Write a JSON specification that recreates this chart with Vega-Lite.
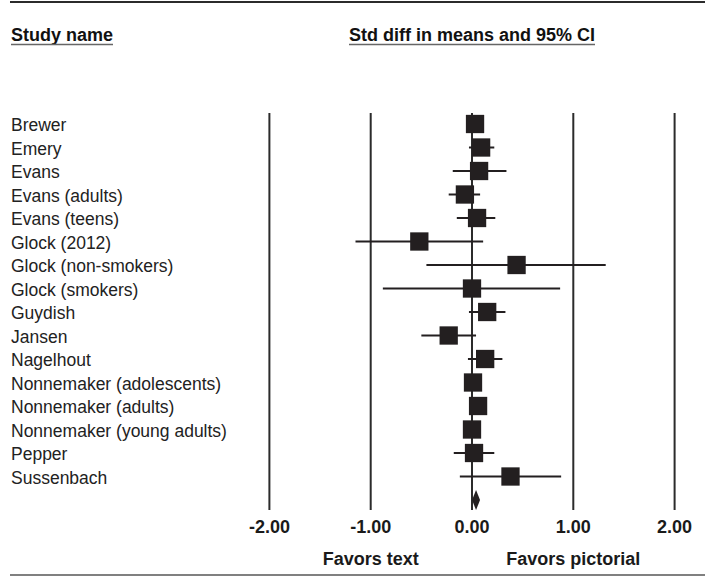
{
  "$schema": "https://vega.github.io/schema/vega-lite/v6.json",
  "width": 705,
  "height": 576,
  "padding": 0,
  "autosize": {"type": "none"},
  "background": "white",
  "config": {"view": {"stroke": null}, "font": "Liberation Sans"},
  "datasets": {
    "studies": [
      {"study": "Brewer", "type": "study", "d": 0.03, "lo": -0.03, "hi": 0.09},
      {"study": "Emery", "type": "study", "d": 0.09, "lo": -0.03, "hi": 0.22},
      {"study": "Evans", "type": "study", "d": 0.07, "lo": -0.19, "hi": 0.34},
      {"study": "Evans (adults)", "type": "study", "d": -0.07, "lo": -0.23, "hi": 0.08},
      {"study": "Evans (teens)", "type": "study", "d": 0.05, "lo": -0.15, "hi": 0.23},
      {"study": "Glock (2012)", "type": "study", "d": -0.52, "lo": -1.15, "hi": 0.11},
      {"study": "Glock (non-smokers)", "type": "study", "d": 0.44, "lo": -0.45, "hi": 1.32},
      {"study": "Glock (smokers)", "type": "study", "d": 0.0, "lo": -0.88, "hi": 0.87},
      {"study": "Guydish", "type": "study", "d": 0.15, "lo": -0.03, "hi": 0.33},
      {"study": "Jansen", "type": "study", "d": -0.23, "lo": -0.5, "hi": 0.04},
      {"study": "Nagelhout", "type": "study", "d": 0.13, "lo": -0.04, "hi": 0.3},
      {"study": "Nonnemaker (adolescents)", "type": "study", "d": 0.01, "lo": -0.04, "hi": 0.06},
      {"study": "Nonnemaker (adults)", "type": "study", "d": 0.06, "lo": 0.01, "hi": 0.11},
      {"study": "Nonnemaker (young adults)", "type": "study", "d": 0.0, "lo": -0.05, "hi": 0.05},
      {"study": "Pepper", "type": "study", "d": 0.02, "lo": -0.18, "hi": 0.22},
      {"study": "Sussenbach", "type": "study", "d": 0.38, "lo": -0.12, "hi": 0.88},
      {"study": "Overall", "type": "summary", "d": 0.04, "lo": 0.0, "hi": 0.08}
    ],
    "ticks": [
      {"tick": -2, "label": "-2.00"},
      {"tick": -1, "label": "-1.00"},
      {"tick": 0, "label": "0.00"},
      {"tick": 1, "label": "1.00"},
      {"tick": 2, "label": "2.00"}
    ],
    "one": [{}]
  },
  "layer": [
    {
      "data": {"name": "ticks"},
      "mark": {"type": "rule", "stroke": "#2b2b2b", "strokeWidth": 2},
      "encoding": {
        "x": {"field": "tick", "type": "quantitative", "scale": {"domain": [-4.6594, 2.3001], "nice": false, "zero": false}, "axis": null},
        "y": {"datum": 0.5319, "type": "quantitative", "scale": {"domain": [-4.2766, 20.234], "nice": false, "zero": false, "reverse": true}, "axis": null},
        "y2": {"datum": 17.4255}
      }
    },
    {
      "data": {"name": "ticks"},
      "mark": {"type": "text", "fontSize": 18, "fontWeight": "bold", "align": "center", "baseline": "middle", "color": "#1a1a1a"},
      "encoding": {
        "x": {"field": "tick", "type": "quantitative", "scale": {"domain": [-4.6594, 2.3001], "nice": false, "zero": false}, "axis": null},
        "y": {"datum": 18.1915, "type": "quantitative", "scale": {"domain": [-4.2766, 20.234], "nice": false, "zero": false, "reverse": true}, "axis": null},
        "text": {"field": "label"}
      }
    },
    {
      "data": {"name": "studies"},
      "transform": [{"window": [{"op": "row_number", "as": "row"}]}, {"filter": "datum.type === 'study'"}],
      "layer": [
        {
          "mark": {"type": "rule", "stroke": "#231f20", "strokeWidth": 2},
          "encoding": {
            "x": {"field": "lo", "type": "quantitative", "scale": {"domain": [-4.6594, 2.3001], "nice": false, "zero": false}, "axis": null},
            "x2": {"field": "hi"},
            "y": {"field": "row", "type": "quantitative", "scale": {"domain": [-4.2766, 20.234], "nice": false, "zero": false, "reverse": true}, "axis": null}
          }
        },
        {
          "mark": {"type": "point", "shape": "square", "filled": true, "size": 335, "color": "#231f20", "opacity": 1},
          "encoding": {
            "x": {"field": "d", "type": "quantitative", "scale": {"domain": [-4.6594, 2.3001], "nice": false, "zero": false}, "axis": null},
            "y": {"field": "row", "type": "quantitative", "scale": {"domain": [-4.2766, 20.234], "nice": false, "zero": false, "reverse": true}, "axis": null}
          }
        },
        {
          "mark": {"type": "text", "fontSize": 17.5, "align": "left", "baseline": "middle", "color": "#222222", "dy": 2},
          "encoding": {
            "x": {"datum": -4.5508, "type": "quantitative", "scale": {"domain": [-4.6594, 2.3001], "nice": false, "zero": false}, "axis": null},
            "y": {"field": "row", "type": "quantitative", "scale": {"domain": [-4.2766, 20.234], "nice": false, "zero": false, "reverse": true}, "axis": null},
            "text": {"field": "study"}
          }
        }
      ]
    },
    {
      "data": {"name": "studies"},
      "transform": [{"window": [{"op": "row_number", "as": "row"}]}, {"filter": "datum.type === 'summary'"}],
      "mark": {"type": "point", "shape": "M0,-1L0.4,0L0,1L-0.4,0Z", "filled": true, "size": 400, "color": "#231f20", "opacity": 1},
      "encoding": {
        "x": {"field": "d", "type": "quantitative", "scale": {"domain": [-4.6594, 2.3001], "nice": false, "zero": false}, "axis": null},
        "y": {"field": "row", "type": "quantitative", "scale": {"domain": [-4.2766, 20.234], "nice": false, "zero": false, "reverse": true}, "axis": null}
      }
    },
    {
      "data": {"name": "one"},
      "mark": {"type": "text", "text": "Study name", "fontSize": 18, "fontWeight": "bold", "align": "left", "baseline": "alphabetic", "color": "#111111"},
      "encoding": {
        "x": {"datum": -4.5508, "type": "quantitative", "scale": {"domain": [-4.6594, 2.3001], "nice": false, "zero": false}, "axis": null},
        "y": {"datum": -2.5319, "type": "quantitative", "scale": {"domain": [-4.2766, 20.234], "nice": false, "zero": false, "reverse": true}, "axis": null}
      }
    },
    {
      "data": {"name": "one"},
      "mark": {"type": "text", "text": "Std diff in means and 95% CI", "fontSize": 18, "fontWeight": "bold", "align": "center", "baseline": "alphabetic", "color": "#111111"},
      "encoding": {
        "x": {"datum": 0, "type": "quantitative", "scale": {"domain": [-4.6594, 2.3001], "nice": false, "zero": false}, "axis": null},
        "y": {"datum": -2.5319, "type": "quantitative", "scale": {"domain": [-4.2766, 20.234], "nice": false, "zero": false, "reverse": true}, "axis": null}
      }
    },
    {
      "data": {"name": "one"},
      "mark": {"type": "rule", "stroke": "#666666", "strokeWidth": 1.5},
      "encoding": {
        "x": {"datum": -4.5508, "type": "quantitative", "scale": {"domain": [-4.6594, 2.3001], "nice": false, "zero": false}, "axis": null},
        "x2": {"datum": -3.5439},
        "y": {"datum": -2.383, "type": "quantitative", "scale": {"domain": [-4.2766, 20.234], "nice": false, "zero": false, "reverse": true}, "axis": null}
      }
    },
    {
      "data": {"name": "one"},
      "mark": {"type": "rule", "stroke": "#666666", "strokeWidth": 1.5},
      "encoding": {
        "x": {"datum": -1.2142, "type": "quantitative", "scale": {"domain": [-4.6594, 2.3001], "nice": false, "zero": false}, "axis": null},
        "x2": {"datum": 1.2142},
        "y": {"datum": -2.383, "type": "quantitative", "scale": {"domain": [-4.2766, 20.234], "nice": false, "zero": false, "reverse": true}, "axis": null}
      }
    },
    {
      "data": {"name": "one"},
      "mark": {"type": "rule", "stroke": "#2b2b2b", "strokeWidth": 2},
      "encoding": {
        "x": {"datum": -4.5607, "type": "quantitative", "scale": {"domain": [-4.6594, 2.3001], "nice": false, "zero": false}, "axis": null},
        "x2": {"datum": 2.3001},
        "y": {"datum": -4.1915, "type": "quantitative", "scale": {"domain": [-4.2766, 20.234], "nice": false, "zero": false, "reverse": true}, "axis": null}
      }
    },
    {
      "data": {"name": "one"},
      "mark": {"type": "rule", "stroke": "#808080", "strokeWidth": 2},
      "encoding": {
        "x": {"datum": -4.5607, "type": "quantitative", "scale": {"domain": [-4.6594, 2.3001], "nice": false, "zero": false}, "axis": null},
        "x2": {"datum": 2.3001},
        "y": {"datum": 20.1915, "type": "quantitative", "scale": {"domain": [-4.2766, 20.234], "nice": false, "zero": false, "reverse": true}, "axis": null}
      }
    },
    {
      "data": {"name": "one"},
      "mark": {"type": "text", "text": "Favors text", "fontSize": 18, "fontWeight": "bold", "align": "center", "baseline": "middle", "color": "#1a1a1a"},
      "encoding": {
        "x": {"datum": -1, "type": "quantitative", "scale": {"domain": [-4.6594, 2.3001], "nice": false, "zero": false}, "axis": null},
        "y": {"datum": 19.5532, "type": "quantitative", "scale": {"domain": [-4.2766, 20.234], "nice": false, "zero": false, "reverse": true}, "axis": null}
      }
    },
    {
      "data": {"name": "one"},
      "mark": {"type": "text", "text": "Favors pictorial", "fontSize": 18, "fontWeight": "bold", "align": "center", "baseline": "middle", "color": "#1a1a1a"},
      "encoding": {
        "x": {"datum": 1, "type": "quantitative", "scale": {"domain": [-4.6594, 2.3001], "nice": false, "zero": false}, "axis": null},
        "y": {"datum": 19.5532, "type": "quantitative", "scale": {"domain": [-4.2766, 20.234], "nice": false, "zero": false, "reverse": true}, "axis": null}
      }
    }
  ]
}
